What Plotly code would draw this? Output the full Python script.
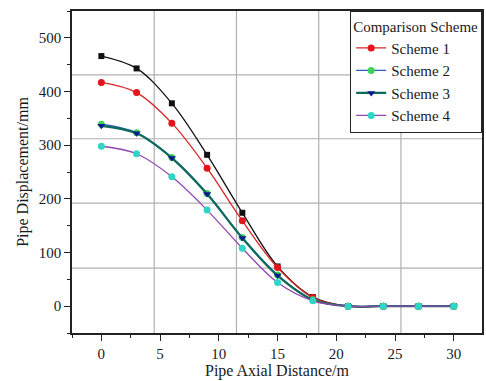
import plotly.graph_objects as go

x_vals = [0, 3, 6, 9, 12, 15, 18, 21, 24, 27, 30]
base = [466, 443, 378, 282, 174, 74, 17, 0, 0, 0, 0]
scheme1 = [417, 398, 341, 257, 159, 72, 16, 0, 0, 0, 0]
scheme2 = [339, 323, 277, 210, 128, 58, 12, 0, 0, 0, 0]
scheme3 = [336, 322, 276, 209, 127, 57, 12, 0, 0, 0, 0]
scheme4 = [298, 284, 241, 179, 108, 44, 10, 0, 0, 0, 0]
names = ["Scheme 1", "Scheme 2", "Scheme 3", "Scheme 4"]

x_ticks = [0, 5, 10, 15, 20, 25, 30]
y_ticks = [0, 100, 200, 300, 400, 500]

# background table-grid lines seen behind the chart
grid_x = [4.5, 11.5, 18.5, 25.5]
grid_y = [431, 312, 192, 71]

FONT = "Liberation Serif"
TXT = "#1a1a1a"

fig = go.Figure()

fig.add_trace(go.Scatter(x=x_vals, y=base, mode="lines+markers", showlegend=False,
                         line=dict(color="#111111", width=1.3, shape="spline"),
                         marker=dict(symbol="square", size=6, color="#111111")))

styles = [
    dict(line="#d62728", marker="#e3151b", symbol="circle", lw=1.3),
    dict(line="#2a5fc4", marker="#3fd15a", symbol="circle", lw=1.3),
    dict(line="#0e6b5c", marker="#0b1a8f", symbol="triangle-down", lw=2.2),
    dict(line="#9146b0", marker="#2fd6c8", symbol="circle", lw=1.3),
]
for name, ys, st in zip(names, [scheme1, scheme2, scheme3, scheme4], styles):
    fig.add_trace(go.Scatter(x=x_vals, y=ys, mode="lines+markers", name=name,
                             line=dict(color=st["line"], width=st["lw"], shape="spline"),
                             marker=dict(symbol=st["symbol"], size=7, color=st["marker"])))

for gx in grid_x:
    fig.add_shape(type="line", xref="x", yref="paper", x0=gx, x1=gx, y0=0, y1=1,
                  line=dict(color="#b0b0b0", width=1.2), layer="below")
for gy in grid_y:
    fig.add_shape(type="line", xref="paper", yref="y", x0=0, x1=1, y0=gy, y1=gy,
                  line=dict(color="#b0b0b0", width=1.2), layer="below")

fig.update_layout(
    width=486, height=381,
    margin=dict(l=72, r=4, t=11, b=48, autoexpand=False),
    paper_bgcolor="white", plot_bgcolor="white",
    font=dict(family=FONT, size=15, color=TXT),
    legend=dict(title=dict(text="Comparison Scheme", font=dict(family=FONT, size=15, color=TXT)),
                x=0.678, y=1.0, xanchor="left", yanchor="top",
                bgcolor="white", bordercolor="#222222", borderwidth=1.2,
                font=dict(family=FONT, size=15, color=TXT),
                tracegroupgap=0, itemwidth=30),
    xaxis=dict(range=[-2.5, 32.4], tickvals=x_ticks, showgrid=False, zeroline=False,
               automargin=False,
               showline=True, linecolor="#222222", linewidth=1.5, mirror=True,
               ticks="outside", ticklen=6, tickwidth=1.3, tickcolor="#222222",
               minor=dict(dtick=2.5, tick0=0, ticks="outside", ticklen=3, tickwidth=1.2, tickcolor="#222222"),
               tickfont=dict(size=15, color=TXT),
               title=dict(text="Pipe Axial Distance/m", font=dict(size=16, color=TXT), standoff=4)),
    yaxis=dict(range=[-50, 550], tickvals=y_ticks, showgrid=False, zeroline=False,
               automargin=False,
               showline=True, linecolor="#222222", linewidth=1.5, mirror=True,
               ticks="outside", ticklen=6, tickwidth=1.3, tickcolor="#222222",
               minor=dict(dtick=50, tick0=0, ticks="outside", ticklen=3, tickwidth=1.2, tickcolor="#222222"),
               tickfont=dict(size=15, color=TXT),
               title=dict(text="Pipe Displacement/mm", font=dict(size=16, color=TXT), standoff=6)),
)

fig.write_html("out.html", config={"displayModeBar": False},
               post_script="document.body.style.margin='0';document.body.style.padding='0';")
